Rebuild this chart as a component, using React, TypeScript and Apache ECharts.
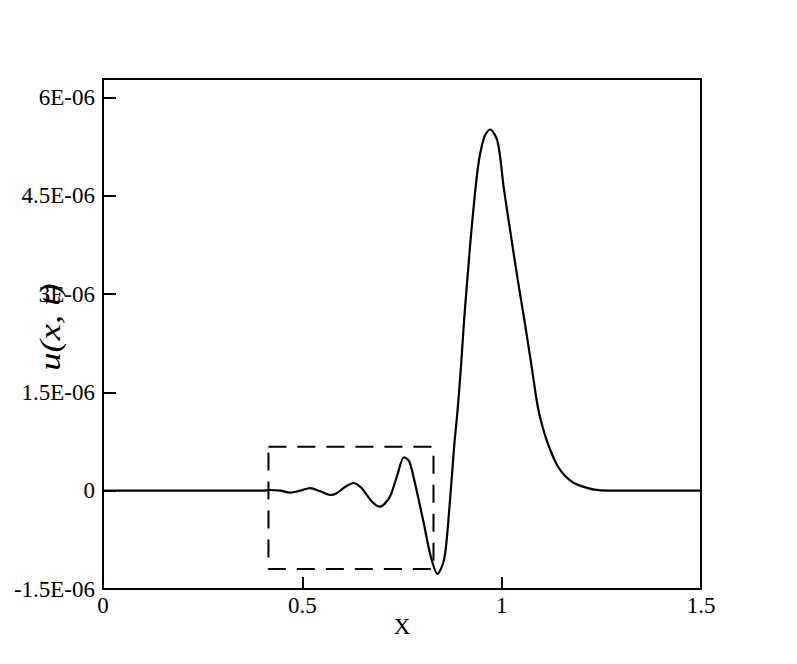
import React, { useEffect, useRef } from "react";
import * as echarts from "echarts";

// Curve samples: x position and u(x, t)
const curveX = [
  0, 0.4, 0.419, 0.445, 0.47, 0.495, 0.52, 0.545, 0.571, 0.587, 0.608, 0.629,
  0.645, 0.654, 0.675, 0.694, 0.708, 0.721, 0.738, 0.755, 0.768, 0.78, 0.793,
  0.805, 0.822, 0.839, 0.856, 0.868, 0.881, 0.889, 0.898, 0.906, 0.914, 0.923,
  0.94, 0.956, 0.971, 0.99, 1.005, 1.023, 1.04, 1.057, 1.075, 1.091, 1.108,
  1.124, 1.14, 1.158, 1.18, 1.2, 1.233, 1.267, 1.5,
];
const curveU = [
  0, 0, 0.01e-6, 0, -0.03e-6, 0, 0.04e-6, -0.01e-6, -0.066e-6, -0.035e-6,
  0.06e-6, 0.117e-6, 0.06e-6, 0, -0.17e-6, -0.244e-6, -0.19e-6, -0.076e-6,
  0.23e-6, 0.51e-6, 0.45e-6, 0.18e-6, -0.17e-6, -0.51e-6, -1.0e-6, -1.27e-6,
  -1.04e-6, -0.33e-6, 0.69e-6, 1.2e-6, 1.9e-6, 2.62e-6, 3.23e-6, 3.89e-6,
  4.91e-6, 5.39e-6, 5.51e-6, 5.32e-6, 4.63e-6, 3.9e-6, 3.23e-6, 2.6e-6,
  1.9e-6, 1.27e-6, 0.86e-6, 0.59e-6, 0.38e-6, 0.23e-6, 0.12e-6, 0.07e-6,
  0.015e-6, 0, 0,
];

// Dashed zoom box corners
const boxX = [0.415, 0.829];
const boxU = [-1.195e-6, 0.671e-6];

// Axis settings
const xTicks = { min: 0, max: 1.5, interval: 0.5 };
const yTicks = { min: -1.5e-6, max: 6.28e-6, interval: 1.5e-6 };

const xName = "X";
const yName = "u(x, t)";

export default function App() {
  const ref = useRef<HTMLDivElement>(null);

  useEffect(() => {
    if (!ref.current) return;
    const chart = echarts.init(ref.current, undefined, { renderer: "svg" });

    const curve = curveX.map((x, i) => [x, curveU[i]]);
    const box = [
      [boxX[0], boxU[1]],
      [boxX[1], boxU[1]],
      [boxX[1], boxU[0]],
      [boxX[0], boxU[0]],
      [boxX[0], boxU[1]],
    ];

    const font = "Liberation Serif";

    chart.setOption({
      animation: false,
      backgroundColor: "#fff",
      grid: {
        left: 103,
        top: 79,
        width: 598,
        height: 510,
        show: true,
        borderColor: "#000",
        borderWidth: 2,
        backgroundColor: "transparent",
      },
      xAxis: {
        type: "value",
        min: xTicks.min,
        max: xTicks.max,
        interval: xTicks.interval,
        axisLine: { onZero: false, lineStyle: { color: "#000", width: 2 } },
        axisTick: { inside: true, length: 12, lineStyle: { color: "#000", width: 2 } },
        axisLabel: {
          fontFamily: font,
          fontSize: 23,
          color: "#000",
          margin: 5,
          formatter: (v: number) => String(Math.round(v * 100) / 100),
        },
        splitLine: { show: false },
      },
      yAxis: {
        type: "value",
        min: yTicks.min,
        max: yTicks.max,
        interval: yTicks.interval,
        axisLine: { onZero: false, lineStyle: { color: "#000", width: 2 } },
        axisTick: { inside: true, length: 13, lineStyle: { color: "#000", width: 2 } },
        axisLabel: {
          fontFamily: font,
          fontSize: 23,
          color: "#000",
          margin: 8,
          showMaxLabel: false,
          formatter: (v: number) => {
            const m = Math.round(v * 1e8) / 100;
            const k = m / 1.5;
            if (Math.abs(k - Math.round(k)) > 1e-6) return "";
            if (m === 0) return "0";
            return `${m}E-06`;
          },
        },
        splitLine: { show: false },
      },
      graphic: [
        {
          type: "text",
          x: 402,
          y: 626,
          style: {
            text: xName,
            fontFamily: font,
            fontSize: 23,
            fill: "#000",
            align: "center",
            verticalAlign: "middle",
          },
        },
        {
          type: "text",
          x: 50,
          y: 327,
          rotation: Math.PI / 2,
          scaleX: 1.22,
          style: {
            text: yName,
            fontFamily: font,
            fontStyle: "italic",
            fontSize: 30,
            fill: "#000",
            align: "center",
            verticalAlign: "middle",
          },
        },
      ],
      series: [
        {
          type: "line",
          data: curve,
          smooth: 0.3,
          symbol: "none",
          lineStyle: { color: "#000", width: 2.2 },
          z: 3,
        },
        {
          type: "line",
          data: box,
          symbol: "none",
          lineStyle: { color: "#000", width: 2, type: [18, 11] },
          z: 2,
        },
      ],
    });

    return () => chart.dispose();
  }, []);

  return (
    <div
      ref={ref}
      style={{ position: "absolute", left: 0, top: 0, width: 797, height: 664 }}
    />
  );
}
